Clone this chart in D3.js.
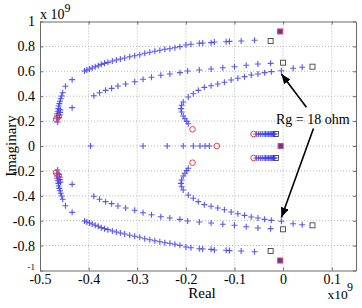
<!DOCTYPE html>
<html><head><meta charset="utf-8">
<script src="https://cdn.jsdelivr.net/npm/d3@7/dist/d3.min.js"></script>
<style>body{margin:0;background:#fff}svg{display:block}text{font-family:"Liberation Serif","Times New Roman",serif;fill:#000}</style>
</head><body>
<script>
// ---- data (real, imag in units of 1e9) ----
const xTicks = [-0.5,-0.4,-0.3,-0.2,-0.1,0,0.1];
const xTickLabels = ["-0.5","-0.4","-0.3","-0.2","-0.1","0","0.1"];
const yTicks = [-1,-0.8,-0.6,-0.4,-0.2,0,0.2,0.4,0.6,0.8,1];
const yTickLabels = ["-1","-0.8","-0.6","-0.4","-0.2","0","0.2","0.4","0.6","0.8","1"];

// blue "+" loci, upper half
const branchAUpper = [[-0.4636,0.193],[-0.4657,0.219],[-0.4657,0.241],[-0.4649,0.259],[-0.4636,0.279],[-0.4622,0.30],[-0.4616,0.321],[-0.4601,0.34],[-0.4587,0.359],[-0.4574,0.38],[-0.4554,0.402],[-0.4533,0.428],[-0.4477,0.48],[-0.4339,0.533],[-0.4085,0.602],[-0.4037,0.61],[-0.3981,0.618],[-0.3926,0.627],[-0.3864,0.637],[-0.3802,0.645],[-0.374,0.656],[-0.3672,0.664],[-0.3603,0.672],[-0.3512,0.683],[-0.343,0.691],[-0.3347,0.699],[-0.3258,0.707],[-0.3155,0.717],[-0.3052,0.725],[-0.2948,0.733],[-0.2845,0.745],[-0.2742,0.753],[-0.2638,0.761],[-0.2535,0.769],[-0.2432,0.777],[-0.2328,0.781],[-0.2225,0.789],[-0.2122,0.798],[-0.1998,0.811],[-0.1895,0.817],[-0.1723,0.825],[-0.1653,0.827],[-0.1481,0.83],[-0.1413,0.835],[-0.1171,0.837],[-0.1103,0.84],[-0.0862,0.843],[-0.0587,0.849]];
const branchALower = [[-0.4636,-0.193],[-0.4657,-0.219],[-0.4657,-0.241],[-0.4649,-0.259],[-0.4636,-0.279],[-0.4622,-0.30],[-0.4616,-0.321],[-0.4601,-0.34],[-0.4587,-0.359],[-0.4574,-0.38],[-0.4554,-0.402],[-0.4533,-0.428],[-0.4477,-0.48],[-0.4339,-0.533],[-0.4085,-0.602],[-0.4037,-0.61],[-0.3981,-0.618],[-0.3926,-0.627],[-0.3864,-0.637],[-0.3802,-0.645],[-0.374,-0.656],[-0.3672,-0.664],[-0.3603,-0.672],[-0.3512,-0.683],[-0.343,-0.691],[-0.3347,-0.699],[-0.3258,-0.707],[-0.3155,-0.717],[-0.3052,-0.725],[-0.2948,-0.733],[-0.2845,-0.745],[-0.2742,-0.753],[-0.2638,-0.761],[-0.2535,-0.769],[-0.2432,-0.777],[-0.2328,-0.781],[-0.2225,-0.789],[-0.2122,-0.798],[-0.1998,-0.811],[-0.1895,-0.817],[-0.1723,-0.825],[-0.1653,-0.827],[-0.1481,-0.83],[-0.1413,-0.835],[-0.1171,-0.837],[-0.1103,-0.84],[-0.0862,-0.843],[-0.0587,-0.849]];
const branchBUpper = [[-0.4605,0.228],[-0.4595,0.25],[-0.4585,0.27],[-0.458,0.29],[-0.4339,0.308],[-0.3893,0.404],[-0.3775,0.428],[-0.3651,0.447],[-0.3527,0.463],[-0.3397,0.482],[-0.3238,0.498],[-0.3052,0.516],[-0.288,0.536],[-0.2707,0.552],[-0.2515,0.568],[-0.2329,0.578],[-0.2122,0.589],[-0.1963,0.602],[-0.1723,0.61],[-0.1481,0.618],[-0.124,0.629],[-0.1,0.637],[-0.0758,0.648],[-0.0517,0.659],[-0.0256,0.664]];
const branchBLower = [[-0.4605,-0.228],[-0.4595,-0.25],[-0.4585,-0.27],[-0.458,-0.29],[-0.4339,-0.308],[-0.3893,-0.404],[-0.3775,-0.428],[-0.3651,-0.447],[-0.3527,-0.463],[-0.3397,-0.482],[-0.3238,-0.498],[-0.3052,-0.516],[-0.288,-0.536],[-0.2707,-0.552],[-0.2515,-0.568],[-0.2329,-0.578],[-0.2122,-0.589],[-0.1963,-0.602],[-0.1723,-0.61],[-0.1481,-0.618],[-0.124,-0.629],[-0.1,-0.637],[-0.0758,-0.648],[-0.0517,-0.659],[-0.0256,-0.664]];
const branchCUpper = [[-0.195,0.179],[-0.1983,0.198],[-0.2019,0.219],[-0.2054,0.241],[-0.2087,0.273],[-0.2101,0.30],[-0.2087,0.327],[-0.2054,0.353],[-0.195,0.394],[-0.1847,0.42],[-0.1744,0.447],[-0.162,0.471],[-0.1481,0.484],[-0.1343,0.498],[-0.1207,0.512],[-0.1068,0.53],[-0.093,0.544],[-0.0793,0.557],[-0.0655,0.57],[-0.0517,0.578],[-0.038,0.589],[-0.0242,0.597],[-0.0035,0.604],[0.0207,0.624],[0.0393,0.632]];
const branchCLower = [[-0.195,-0.179],[-0.1983,-0.198],[-0.2019,-0.219],[-0.2054,-0.241],[-0.2087,-0.273],[-0.2101,-0.30],[-0.2087,-0.327],[-0.2054,-0.353],[-0.195,-0.394],[-0.1847,-0.42],[-0.1744,-0.447],[-0.162,-0.471],[-0.1481,-0.484],[-0.1343,-0.498],[-0.1207,-0.512],[-0.1068,-0.53],[-0.093,-0.544],[-0.0793,-0.557],[-0.0655,-0.57],[-0.0517,-0.578],[-0.038,-0.589],[-0.0242,-0.597],[-0.0035,-0.604],[0.0207,-0.624],[0.0393,-0.632]];
const branchReal = [[-0.396,0],[-0.288,0],[-0.2384,0],[-0.2054,0],[-0.1847,0],[-0.1709,0],[-0.1605,0],[-0.1517,0]];
const branchSmallUpper = [[-0.055,0.096],[-0.051,0.096],[-0.047,0.096],[-0.043,0.096],[-0.039,0.096],[-0.036,0.096],[-0.033,0.096],[-0.030,0.096],[-0.027,0.096],[-0.025,0.096],[-0.023,0.096],[-0.021,0.096],[-0.019,0.096],[-0.017,0.096]];
const branchSmallLower = [[-0.055,-0.096],[-0.051,-0.096],[-0.047,-0.096],[-0.043,-0.096],[-0.039,-0.096],[-0.036,-0.096],[-0.033,-0.096],[-0.030,-0.096],[-0.027,-0.096],[-0.025,-0.096],[-0.023,-0.096],[-0.021,-0.096],[-0.019,-0.096],[-0.017,-0.096]];

// red circles (start points)
const startPoints = [[-0.467,0.214],[-0.4616,0.238],[-0.467,-0.214],[-0.4616,-0.238],[-0.1863,0.134],[-0.1863,-0.134],[-0.1364,0],[-0.0607,0.096],[-0.0607,-0.096]];
// black squares (end points)
const endPoints = [[-0.0256,0.843],[-0.0256,-0.843],[0.0,0.669],[0.0,-0.669],[0.0605,0.637],[0.0605,-0.637],[-0.0145,0.096],[-0.0145,-0.096]];
// filled purple squares
const fixedPoints = [[-0.006,0.92],[-0.005,0],[-0.006,-0.92]];

// annotation
const annotationText = "Rg = 18 ohm";
const annotationPos = [0.061,0.178];
const arrows = [{from:[0.048,0.311],to:[-0.0035,0.578]},{from:[0.0625,0.14],to:[-0.0035,-0.575]}];

// ---- drawing ----
const W = 362, H = 308;
const svg = d3.select("body").append("svg").attr("width",W).attr("height",H);
svg.append("rect").attr("width",W).attr("height",H).attr("fill","#fff");

const x = d3.scaleLinear().domain([-0.5,0.15]).range([40,356]);
const y = d3.scaleLinear().domain([-1,1]).range([270.5,21.5]);

const grid = svg.append("g");
grid.selectAll("line.gx").data(xTicks.filter(d=>d>-0.5)).join("line")
  .attr("x1",d=>x(d)).attr("x2",d=>x(d)).attr("y1",y(1)).attr("y2",y(-1))
  .attr("stroke","#b8b8b8").attr("stroke-width",1).attr("stroke-dasharray","1,2");
grid.selectAll("line.gy").data(yTicks.filter(d=>d>-1&&d<1)).join("line")
  .attr("y1",d=>y(d)).attr("y2",d=>y(d)).attr("x1",x(-0.5)).attr("x2",x(0.15))
  .attr("stroke","#b8b8b8").attr("stroke-width",1).attr("stroke-dasharray","1,2");

const axColor = "#6a6a6a";
function styleAxis(g){ g.select(".domain").attr("stroke",axColor); g.selectAll(".tick line").attr("stroke",axColor);
  g.selectAll("text").style("font-family",'"Liberation Serif","Times New Roman",serif').style("font-size","14px").attr("fill","#000"); }

svg.append("g").attr("transform",`translate(0,${y(-1)})`)
  .call(d3.axisBottom(x).tickValues(xTicks).tickSize(-3).tickSizeOuter(0).tickPadding(3.5).tickFormat((d,i)=>xTickLabels[i]))
  .call(styleAxis);
svg.append("g").attr("transform",`translate(0,${y(1)})`)
  .call(d3.axisTop(x).tickValues(xTicks).tickSize(-3).tickSizeOuter(0).tickFormat(""))
  .call(styleAxis);
const yl = svg.append("g").attr("transform",`translate(${x(-0.5)},0)`)
  .call(d3.axisLeft(y).tickValues(yTicks).tickSize(-3).tickSizeOuter(0).tickPadding(5).tickFormat((d,i)=>yTickLabels[i]))
  .call(styleAxis);
yl.selectAll(".tick text").filter(d=>d===-1).style("font-size","9px").attr("dy","-0.1em");
svg.append("g").attr("transform",`translate(${x(0.15)},0)`)
  .call(d3.axisRight(y).tickValues(yTicks).tickSize(-3).tickSizeOuter(0).tickFormat(""))
  .call(styleAxis);

// exponents
const e1 = svg.append("text").attr("x",40).attr("y",18.5).style("font-size","14px");
e1.append("tspan").text("x 10");
e1.append("tspan").attr("dy",-7).style("font-size","12px").text("9");
svg.append("text").attr("x",327.5).attr("y",299).style("font-size","13.5px").text("x10");
svg.append("text").attr("x",347).attr("y",291).style("font-size","12px").text("9");

// axis labels
svg.append("text").attr("x",202).attr("y",298).attr("text-anchor","middle").style("font-size","15px").text("Real");
svg.append("text").attr("transform","translate(16,146) rotate(-90)").attr("text-anchor","middle").style("font-size","15px").text("Imaginary");

// markers
const plotG = svg.append("g");
const allPlus = [].concat(branchAUpper,branchALower,branchBUpper,branchBLower,branchCUpper,branchCLower,branchReal,branchSmallUpper,branchSmallLower);
plotG.selectAll("path.plus").data(allPlus).join("path")
  .attr("d",d=>`M${x(d[0])-3},${y(d[1])}h6M${x(d[0])},${y(d[1])-3}v6`)
  .attr("stroke","#3b3bf5").attr("stroke-width",1.1).attr("stroke-opacity",0.85).attr("fill","none");
plotG.selectAll("circle.start").data(startPoints).join("circle")
  .attr("cx",d=>x(d[0])).attr("cy",d=>y(d[1])).attr("r",2.8)
  .attr("fill","none").attr("stroke","#ee3b3b").attr("stroke-width",1);
plotG.selectAll("rect.end").data(endPoints).join("rect")
  .attr("x",d=>x(d[0])-2.5).attr("y",d=>y(d[1])-2.5).attr("width",5).attr("height",5)
  .attr("fill","none").attr("stroke","#444").attr("stroke-width",0.9);
plotG.selectAll("rect.fixed").data(fixedPoints).join("rect")
  .attr("x",d=>x(d[0])-2.5).attr("y",d=>y(d[1])-2.5).attr("width",5).attr("height",5)
  .attr("fill","#5a3a9e").attr("stroke","#e0406a").attr("stroke-width",1);

// annotation
const defs = svg.append("defs");
defs.append("marker").attr("id","ah").attr("viewBox","0 0 10 8").attr("refX",10).attr("refY",4)
  .attr("markerWidth",10).attr("markerHeight",8).attr("markerUnits","userSpaceOnUse").attr("orient","auto")
  .append("path").attr("d","M0,0L10,4L0,8Z").attr("fill","#000");
svg.selectAll("line.arrow").data(arrows).join("line")
  .attr("x1",d=>x(d.from[0])).attr("y1",d=>y(d.from[1])).attr("x2",d=>x(d.to[0])).attr("y2",d=>y(d.to[1]))
  .attr("stroke","#000").attr("stroke-width",1.6).attr("marker-end","url(#ah)");
svg.append("text").attr("x",x(annotationPos[0])).attr("y",y(annotationPos[1])).attr("text-anchor","middle")
  .style("font-size","14px").text(annotationText);
</script>
</body></html>
